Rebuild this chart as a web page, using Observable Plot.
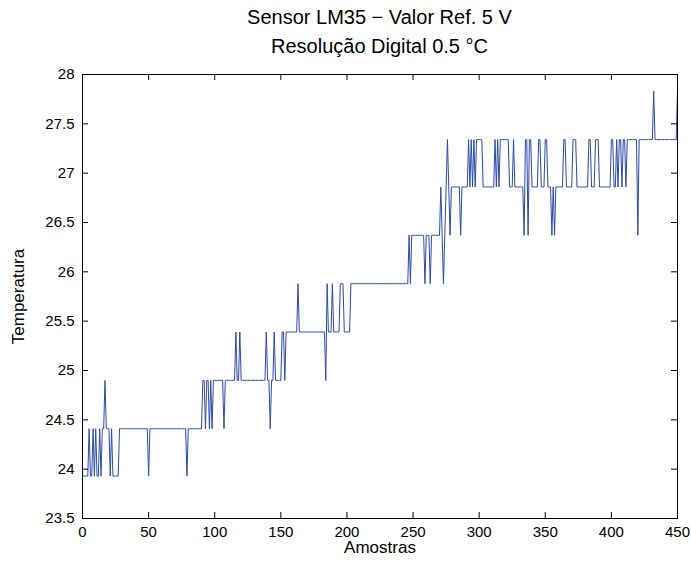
<!DOCTYPE html>
<html><head><meta charset="utf-8">
<script src="https://cdn.jsdelivr.net/npm/d3@7"></script>
<script src="https://cdn.jsdelivr.net/npm/@observablehq/plot@0.6"></script>
<style>
body{margin:0;background:#fff;}
#wrap{width:691px;height:567px;position:relative;font-family:"Liberation Sans",Arial,Helvetica,sans-serif;background:#fff;}
#title{position:absolute;left:82px;width:595px;top:3px;text-align:center;font-size:20px;line-height:29px;color:#000;}
#chart{position:absolute;left:0;top:0;}
</style></head><body>
<div id="wrap"><div id="chart"></div><div id="title">Sensor LM35 − Valor Ref. 5 V<br>Resolução Digital 0.5 °C</div></div>
<script>
// Run-length data: sample index where each run starts, and its temperature
const runStart = [
  0,5,6,8,9,10,11,13,14,15,
  17,18,21,22,23,28,50,51,79,80,
  91,93,94,96,97,98,99,107,108,116,
  117,119,120,139,140,142,143,145,146,151,
  153,154,163,164,184,185,186,189,190,195,
  198,203,247,248,249,259,260,263,264,271,
  272,273,274,275,276,277,278,279,286,287,
  292,293,294,295,296,297,298,303,312,313,
  314,315,316,323,326,327,334,335,337,338,
  340,345,347,350,352,355,356,357,358,364,
  366,371,374,383,385,388,391,400,402,404,
  405,406,408,409,411,412,420,421,432,433,
  450
];
const runTemp = [
  23.93,24.41,23.93,24.41,23.93,24.41,23.93,24.41,23.93,24.41,
  24.90,24.41,23.93,24.41,23.93,24.41,23.93,24.41,23.93,24.41,
  24.90,24.41,24.90,24.41,24.90,24.41,24.90,24.41,24.90,25.39,
  24.90,25.39,24.90,25.39,24.90,24.41,24.90,25.39,24.90,25.39,
  24.90,25.39,25.88,25.39,24.90,25.88,25.39,25.88,25.39,25.88,
  25.39,25.88,26.37,25.88,26.37,25.88,26.37,25.88,26.37,26.86,
  26.37,25.88,26.37,26.86,27.34,26.86,26.37,26.86,26.37,26.86,
  27.34,26.86,27.34,26.86,27.34,26.86,27.34,26.86,27.34,26.86,
  27.34,26.86,27.34,26.86,27.34,26.86,26.37,27.34,26.37,27.34,
  26.86,27.34,26.86,27.34,26.86,26.37,26.86,26.37,26.86,27.34,
  26.86,27.34,26.86,27.34,26.86,27.34,26.86,27.34,26.86,27.34,
  26.86,27.34,26.86,27.34,26.86,27.34,26.37,27.34,27.83,27.34,
  27.83
];
const lastSample = 450;
const xTicks = [0,50,100,150,200,250,300,350,400,450];
const yTicks = [23.5,24,24.5,25,25.5,26,26.5,27,27.5,28];
const xLabel = "Amostras";
const yLabel = "Temperatura";

const samples = [];
for (let r = 0; r < runStart.length; r++) {
  const end = r + 1 < runStart.length ? runStart[r + 1] - 1 : lastSample;
  for (let n = runStart[r]; n <= end; n++) samples.push({n, t: runTemp[r]});
}

const W = 691, H = 567, mt = 74, mr = 14, mb = 49, ml = 82;
const iw = W - ml - mr, ih = H - mt - mb, tl = 6;

const chart = Plot.plot({
  width: W, height: H,
  marginTop: mt, marginRight: mr, marginBottom: mb, marginLeft: ml,
  style: {fontFamily: '"Liberation Sans", Arial, Helvetica, sans-serif', fontSize: "15px", background: "#fff", color: "#000", overflow: "visible"},
  x: {domain: [0, 450], ticks: xTicks},
  y: {domain: [23.5, 28], ticks: yTicks},
  marks: [
    Plot.line(samples, {x: "n", y: "t", stroke: "#2b4ba8", strokeWidth: 1}),
    Plot.tickX(xTicks, {x: d => d, insetTop: ih - tl, stroke: "#000"}),
    Plot.tickX(xTicks, {x: d => d, insetBottom: ih - tl, stroke: "#000"}),
    Plot.tickY(yTicks, {y: d => d, insetRight: iw - tl, stroke: "#000"}),
    Plot.tickY(yTicks, {y: d => d, insetLeft: iw - tl, stroke: "#000"}),
    Plot.frame({stroke: "#000"}),
    Plot.axisX({ticks: xTicks, tickSize: 0, tickPadding: 8, tickFormat: d => String(d), label: null, fontSize: 15}),
    Plot.axisY({ticks: yTicks, tickSize: 0, tickPadding: 8, tickFormat: d => String(d), label: null, fontSize: 15}),
    Plot.text([xLabel], {text: d => d, frameAnchor: "bottom", dy: 34, fontSize: 17}),
    Plot.text([yLabel], {text: d => d, frameAnchor: "left", textAnchor: "middle", rotate: -90, dx: -64, fontSize: 17})
  ]
});
document.getElementById("chart").appendChild(chart);
</script>
</body></html>
